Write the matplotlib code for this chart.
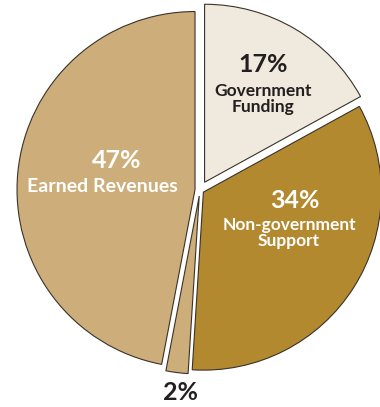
import matplotlib.pyplot as plt

# revenue shares, clockwise from 12 o'clock
shares = [17, 34, 2, 47]
names = ["Government\nFunding", "Non-government\nSupport", "", "Earned Revenues"]
colors = ["#EFE9DE", "#B3892F", "#CDAE7A", "#CDAE7A"]
# wedge offsets in pixels (pie explode is in data units)
explode = [9, 4, 6, 5]

W, H = 380, 407
fig = plt.figure(figsize=(W / 100, H / 100), dpi=100)
ax = fig.add_axes([0, 0, 1, 1])

R = 178
cx, cy = 200, H - 190
ax.pie(shares, colors=colors, explode=explode, startangle=90, counterclock=False,
       radius=R, center=(cx, cy),
       wedgeprops=dict(edgecolor="#3a3228", linewidth=0.8))
ax.set_xlim(0, W)
ax.set_ylim(0, H)
ax.axis("off")

font = ["Lato", "DejaVu Sans"]
dark = "#231f20"

def label(x, y, pct, name, color, name_x=None, gap=17, size=12.5):
    ax.text(x, H - y, f"{pct}%", ha="center", va="center", fontsize=18,
            fontweight="bold", color=color, family=font)
    if name:
        ax.text(x if name_x is None else name_x, H - y - gap, name, ha="center",
                va="top", fontsize=size, fontweight="bold", color=color,
                family=font, linespacing=1.0)

label(263, 65, shares[0], names[0], dark, gap=18, size=12.5)
label(295, 200, shares[1], names[1], "white", name_x=289, gap=17, size=12.5)
label(180, 392, shares[2], names[2], dark)
label(117, 160, shares[3], names[3], "white", name_x=102, gap=18, size=14)

fig.savefig("out.png", dpi=100)
